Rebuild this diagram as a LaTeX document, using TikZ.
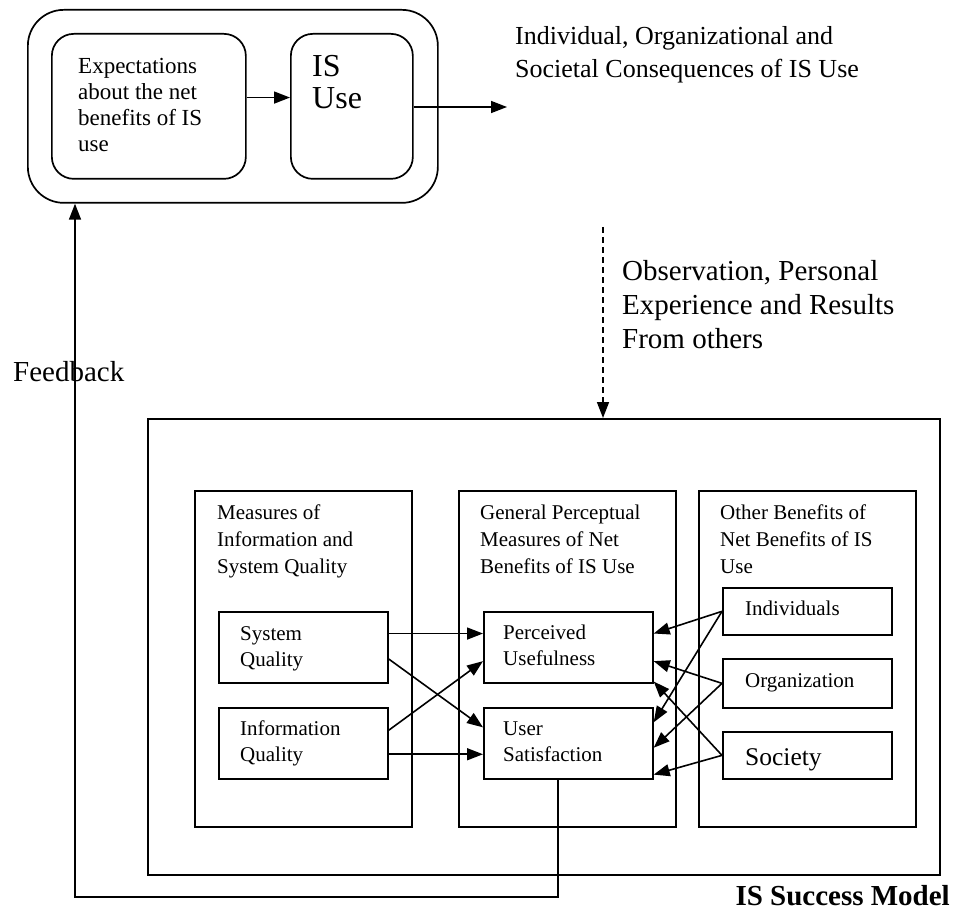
\documentclass[tikz,border=0pt]{standalone}
\usepackage{fontspec}
\setmainfont{Liberation Serif}
\usetikzlibrary{arrows.meta,calc}

\tikzset{
  box/.style={draw, line width=1.7pt, inner sep=0pt, anchor=north west},
  rbox/.style={box, rounded corners=22pt},
  lbl/.style={inner sep=0pt, anchor=base west, align=left},
  tip/.style={-{Triangle[length=16pt,width=12pt]}},
  arr/.style={line width=1.6pt, tip},
  txs/.style={font=\fontsize{21}{26}\selectfont},
}

\begin{document}
\begin{tikzpicture}[x=1pt, y=-1pt]
\useasboundingbox (0,0) rectangle (956,912);

% ---- upper part: expectations and use ----
\node[box, rounded corners=36pt, minimum width=410pt, minimum height=193pt] (outer) at (27,9) {};
\node[rbox, minimum width=194pt, minimum height=145pt] (exp) at (51,33) {};
\node[rbox, minimum width=122pt, minimum height=145pt] (isuse) at (290,33) {};

% multi-line labels are placed by the baseline of their last line
\node[lbl, font=\fontsize{23}{26}\selectfont] (exptxt) at (78,152)
  {Expectations\\about the net\\benefits of IS\\use};
\node[lbl, font=\fontsize{32}{32}\selectfont] (usetxt) at (312,109)
  {IS\\Use};

\coordinate (expout) at ($(exp.north east)!.44!(exp.south east)$);
\draw[arr] (expout) -- (expout -| isuse.west);

\coordinate (conseq) at (507,107);
\draw[arr] (conseq -| isuse.east) -- (conseq);

\node[lbl, font=\fontsize{26}{33}\selectfont] (constxt) at (515,78)
  {Individual, Organizational and\\Societal Consequences of IS Use};

% ---- observation arrow ----
\coordinate (obs) at (603,227);
\node[lbl, font=\fontsize{29}{34}\selectfont] (obstxt) at (622,348)
  {Observation, Personal\\Experience and Results\\From others};

% ---- IS success model ----
\node[box, minimum width=792pt, minimum height=456pt] (model) at (147,418) {};
\draw[line width=1.6pt, dash pattern=on 6pt off 4pt, tip]
  (obs) -- (obs |- model.north);

\node[box, minimum width=217pt, minimum height=336pt] (colA) at (194,490) {};
\node[box, minimum width=217pt, minimum height=336pt] (colB) at (458,490) {};
\node[box, minimum width=217pt, minimum height=336pt] (colC) at (698,490) {};

\node[lbl, font=\fontsize{21}{27}\selectfont] (colAtxt) at (217,573)
  {Measures of\\Information and\\System Quality};
\node[lbl, font=\fontsize{21}{27}\selectfont] (colBtxt) at (480,573)
  {General Perceptual\\Measures of Net\\Benefits of IS Use};
\node[lbl, font=\fontsize{21}{27}\selectfont] (colCtxt) at (720,573)
  {Other Benefits of\\Net Benefits of IS\\Use};

% quality measures
\node[box, minimum width=169pt, minimum height=71pt] (sq) at (218,611) {};
\node[box, minimum width=169pt, minimum height=71pt] (iq) at (218,707) {};
\node[lbl, txs] (sqtxt) at (240,666) {System\\Quality};
\node[lbl, txs] (iqtxt) at (240,761) {Information\\Quality};

% perceptual measures
\node[box, minimum width=169pt, minimum height=71pt] (pu) at (483,611) {};
\node[box, minimum width=169pt, minimum height=71pt] (us) at (483,707) {};
\node[lbl, txs] (putxt) at (503,665) {Perceived\\Usefulness};
\node[lbl, txs] (ustxt) at (503,761) {User\\Satisfaction};

% other benefits
\node[box, minimum width=169pt, minimum height=47pt] (ind) at (722,587) {};
\node[box, minimum width=169pt, minimum height=49pt] (org) at (722,658) {};
\node[box, minimum width=169pt, minimum height=47pt] (soc) at (722,731) {};
\node[lbl, txs] (indtxt) at (745,615) {Individuals};
\node[lbl, txs] (orgtxt) at (745,687) {Organization};
\node[lbl, font=\fontsize{25.5}{27}\selectfont] (soctxt) at (745,765) {Society};

% quality -> perception
\draw[arr] ($(sq.north east)!.31!(sq.south east)$) -- ($(pu.north west)!.31!(pu.south west)$);
\draw[arr] ($(sq.north east)!.66!(sq.south east)$) -- ($(us.north west)!.28!(us.south west)$);
\draw[arr] ($(iq.north east)!.32!(iq.south east)$) -- ($(pu.north west)!.69!(pu.south west)$);
\draw[arr] ($(iq.north east)!.65!(iq.south east)$) -- ($(us.north west)!.65!(us.south west)$);

% other benefits -> perception
\draw[arr] (ind.west) -- ($(pu.north east)!.31!(pu.south east)$);
\draw[arr] (ind.west) -- ($(us.north east)!.21!(us.south east)$);
\draw[arr] (org.west) -- ($(pu.north east)!.69!(pu.south east)$);
\draw[arr] (org.west) -- ($(us.north east)!.56!(us.south east)$);
\draw[arr] (soc.west) -- ($(pu.north east)!.97!(pu.south east)$);
\draw[arr] (soc.west) -- ($(us.north east)!.93!(us.south east)$);

% feedback loop
\node[lbl, font=\fontsize{29}{34}\selectfont] (fbtxt) at (13,381) {Feedback};
\coordinate (fbstart) at ($(us.south west)!.44!(us.south east)$);
\coordinate (fb) at (75,897);
\draw[arr] (fbstart) |- (fb) -- (fb |- outer.south);

\node[inner sep=0pt, anchor=base east, font=\fontsize{29}{34}\selectfont\bfseries] (title) at (950,905)
  {IS Success Model};
\end{tikzpicture}
\end{document}
